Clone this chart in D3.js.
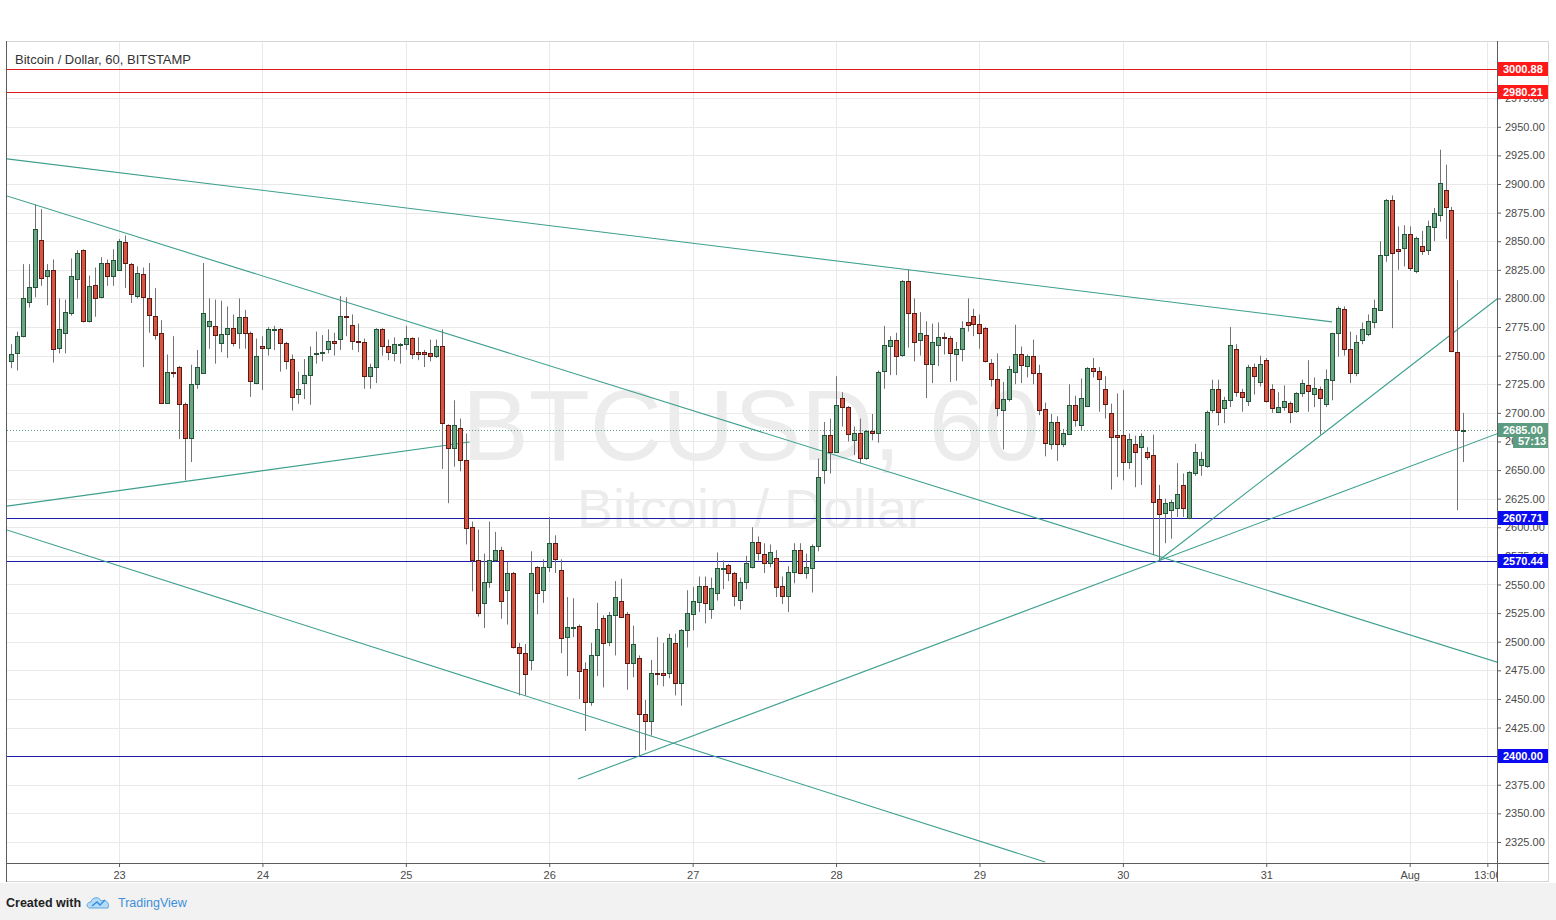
<!DOCTYPE html>
<html>
<head>
<meta charset="UTF-8">
<title>Bitcoin / Dollar, 60, BITSTAMP</title>
<style>
  body { margin: 0; background: #fff; font-family: "Liberation Sans", Arial, sans-serif; }
  svg { display: block; }
</style>
</head>
<body>
<div id="chart"></div>
<script src="https://d3js.org/d3.v7.min.js"></script>
<script>
const W = 1556, H = 920;

// hourly bars, first one Jul 22 2017 06:00
const firstBar = new Date(2017, 6, 22, 6);

const opens = [2745,2752,2767,2797,2810,2851,2820,2825,2756,2770,2788,2817,2842,2780,2812,2801,2831,2820,2825,2849,2830,2802,2821,
  2800,2785,2770,2709,2736,2740,2708,2678,2725,2735,2776,2776,2761,2769,2774,2770,2784,2770,2726,2758,2756,2773,2773,2761,
  2747,2717,2726,2733,2751,2752,2756,2763,2765,2785,2777,2763,2762,2732,2740,2773,2758,2752,2760,2760,2765,2753,2753,2752,2749,
  2758,2689,2669,2687,2659,2600,2571,2534,2552,2571,2580,2545,2560,2495,2490,2484,2565,2545,2565,2586,
  2563,2504,2512,2514,2476,2447,2488,2521,2499,2523,2536,2524,2481,2486,2437,2431,2473,2473,2472,2499,2464,2510,2525,
  2535,2549,2529,2542,2563,2567,2560,2536,2552,2565,2587,2577,2568,2573,2549,2540,2561,2580,2560,2565,2584,2650,
  2681,2666,2713,2705,2676,2682,2660,2684,2683,2736,2759,2764,2750,2815,2787,2764,2768,2743,2759,2766,2765,2752,2756,
  2779,2785,2778,2774,2744,2730,2702,2712,2735,2751,2741,2750,2735,2703,2673,2692,2672,2682,2707,2689,2706,2739,
  2737,2721,2700,2681,2681,2657,2673,2670,2666,2663,2625,2612,2615,2617,2637,2608,2648,2655,2654,2703,2721,2704,2711,
  2756,2718,2710,2740,2727,2746,2721,2701,2705,2709,2701,2717,2724,2717,2721,2708,2729,2770,2791,2756,2735,
  2763,2769,2780,2790,2838,2886,2843,2844,2856,2824,2846,2842,2863,2873,2895,2877,2753,2684];
const highs = [2760,2771,2830,2830,2882,2878,2830,2834,2800,2799,2835,2842,2843,2820,2827,2836,2834,2843,2852,2855,2831,2828,2827,
  2831,2809,2781,2751,2767,2741,2709,2742,2755,2831,2800,2799,2798,2793,2786,2800,2790,2771,2765,2767,2775,2776,2774,2762,
  2751,2736,2747,2758,2771,2768,2773,2770,2802,2801,2786,2778,2765,2743,2774,2774,2764,2766,2761,2776,2766,2766,2755,2764,2764,
  2773,2690,2711,2695,2682,2605,2598,2577,2605,2596,2583,2570,2561,2499,2498,2579,2566,2572,2609,2593,
  2572,2539,2538,2515,2482,2499,2534,2523,2526,2553,2555,2526,2514,2488,2449,2484,2504,2499,2507,2507,2511,2545,2548,
  2557,2557,2556,2578,2571,2568,2561,2556,2575,2600,2592,2586,2585,2580,2557,2566,2586,2586,2577,2585,2660,2692,
  2695,2732,2718,2706,2688,2695,2685,2699,2737,2776,2767,2770,2816,2825,2800,2788,2780,2778,2779,2770,2767,2762,2780,
  2800,2791,2786,2775,2747,2752,2727,2741,2777,2758,2751,2764,2742,2709,2699,2697,2686,2725,2715,2730,2740,2748,
  2740,2732,2708,2717,2720,2682,2680,2682,2670,2681,2637,2625,2624,2656,2647,2649,2673,2666,2702,2729,2729,2714,2775,
  2760,2721,2742,2743,2750,2748,2725,2718,2724,2710,2718,2729,2746,2731,2723,2738,2770,2793,2793,2771,2768,
  2779,2786,2799,2850,2887,2890,2863,2864,2863,2854,2859,2868,2879,2930,2917,2880,2816,2700];
const lows = [2739,2737,2766,2792,2801,2811,2794,2744,2752,2752,2785,2800,2779,2779,2784,2800,2811,2811,2824,2809,2796,2800,2740,
  2770,2764,2708,2708,2731,2677,2641,2657,2721,2735,2756,2743,2753,2748,2758,2756,2756,2714,2725,2720,2750,2755,2736,2738,
  2702,2708,2712,2707,2743,2745,2752,2750,2755,2767,2755,2753,2721,2721,2726,2750,2746,2745,2743,2755,2747,2746,2740,2745,2748,
  2651,2621,2653,2649,2585,2544,2522,2512,2547,2570,2520,2515,2494,2453,2453,2475,2524,2534,2561,2560,
  2490,2470,2504,2450,2422,2444,2470,2460,2496,2488,2521,2458,2469,2400,2405,2418,2462,2461,2468,2453,2444,2495,2510,
  2526,2516,2520,2536,2546,2553,2531,2528,2546,2564,2571,2560,2565,2539,2533,2526,2551,2559,2555,2543,2579,2638,
  2647,2665,2688,2675,2663,2656,2659,2676,2674,2721,2733,2733,2749,2757,2745,2750,2713,2726,2741,2751,2727,2728,2745,
  2771,2767,2756,2744,2723,2697,2668,2710,2725,2726,2731,2725,2698,2662,2668,2658,2670,2681,2688,2685,2705,2731,
  2701,2695,2633,2644,2641,2651,2635,2637,2659,2576,2571,2586,2590,2609,2609,2607,2645,2645,2652,2700,2689,2691,2705,
  2714,2701,2706,2716,2723,2709,2700,2700,2702,2691,2700,2714,2701,2705,2681,2705,2711,2749,2750,2726,2732,
  2760,2767,2774,2789,2832,2774,2825,2828,2824,2822,2838,2838,2850,2867,2852,2753,2615,2657];
const closes = [2751,2767,2800,2810,2861,2818,2825,2756,2773,2788,2820,2840,2780,2811,2801,2831,2820,2834,2850,2831,2804,2822,2801,
  2785,2768,2709,2736,2735,2708,2678,2725,2740,2787,2780,2768,2769,2774,2761,2784,2770,2728,2750,2756,2773,2773,2761,2745,
  2714,2721,2733,2750,2752,2753,2763,2761,2785,2784,2763,2762,2732,2740,2773,2758,2753,2760,2760,2765,2751,2751,2751,2749,2758,
  2691,2669,2689,2659,2600,2571,2525,2552,2571,2580,2535,2560,2495,2490,2472,2560,2542,2565,2586,2572,
  2504,2513,2513,2475,2447,2488,2511,2499,2523,2539,2522,2481,2498,2437,2431,2473,2472,2471,2503,2464,2510,2525,2536,
  2549,2534,2547,2564,2564,2560,2540,2552,2569,2587,2577,2569,2578,2548,2540,2561,2580,2560,2565,2584,2644,2681,
  2666,2707,2705,2681,2682,2660,2684,2682,2736,2759,2764,2750,2815,2787,2762,2770,2743,2762,2766,2765,2752,2756,2774,
  2776,2778,2770,2745,2730,2705,2712,2738,2751,2741,2750,2735,2703,2673,2692,2673,2682,2707,2694,2713,2739,2736,
  2730,2708,2679,2679,2657,2677,2666,2680,2662,2622,2612,2621,2622,2629,2617,2648,2666,2660,2701,2721,2701,2711,2759,
  2718,2714,2740,2732,2743,2710,2704,2705,2710,2701,2717,2726,2719,2722,2713,2730,2770,2792,2756,2735,2762,
  2773,2780,2792,2838,2886,2840,2841,2856,2826,2853,2842,2863,2875,2901,2880,2754,2685,2685];

// horizontal levels and drawn trend lines: [start hour from Jul 23 00:00, price, end hour, price]
const redLevels = [3000.88, 2980.21];
const blueLevels = [2607.71, 2570.44, 2400.00];
const lastPrice = 2685.00;
const countdown = "57:13";
const trendLines = [
  [-19, 2922.1, 203, 2779.5],
  [-19, 2889.9, 231, 2481.5],
  [-19, 2598.0, 155, 2307.4],
  [-19, 2618.3, 58.7, 2674.5],
  [76.8, 2380.0, 231, 2682.5],
  [174, 2571.0, 231, 2801.0]
];
const priceTicks = d3.range(2325, 3000, 25);
const timeTicks = [23, 24, 25, 26, 27, 28, 29, 30, 31].map(d => new Date(2017, 6, d))
  .concat([new Date(2017, 7, 1), new Date(2017, 7, 1, 13)]);

const base = new Date(2017, 6, 23);
const atHour = h => new Date(base.getTime() + h * 36e5);

const bars = opens.map((o, i) => ({
  t: d3.timeHour.offset(firstBar, i), o, h: highs[i], l: lows[i], c: closes[i]
}));

// layout
const plot = { left: 7, right: 1497, top: 42, bottom: 863 };
const x = d3.scaleTime()
  .domain([new Date(2017, 6, 22, 5, 15), new Date(2017, 7, 1, 14, 37)])
  .range([plot.left, plot.right]);
const y = d3.scaleLinear().domain([2306.6, 3024.1]).range([plot.bottom, plot.top]);

const upFill = "#6ba583", upLine = "#225437", dnFill = "#d75442", dnLine = "#5b1a13", wick = "#737375";
const trendColor = "#3c9f8d";

const svg = d3.select("#chart").append("svg").attr("width", W).attr("height", H);
svg.append("rect").attr("width", W).attr("height", H).attr("fill", "#fff");

svg.append("clipPath").attr("id", "plotclip").append("rect")
  .attr("x", plot.left).attr("y", plot.top)
  .attr("width", plot.right - plot.left).attr("height", plot.bottom - plot.top);

// grid
const grid = svg.append("g").attr("clip-path", "url(#plotclip)");
grid.selectAll(".hg").data(priceTicks).enter().append("line")
  .attr("x1", plot.left).attr("x2", plot.right)
  .attr("y1", d => Math.round(y(d)) + 0.5).attr("y2", d => Math.round(y(d)) + 0.5)
  .attr("stroke", "#e9e9ea");
grid.selectAll(".vg").data(timeTicks).enter().append("line")
  .attr("x1", d => Math.round(x(d)) + 0.5).attr("x2", d => Math.round(x(d)) + 0.5)
  .attr("y1", plot.top).attr("y2", plot.bottom)
  .attr("stroke", "#e9e9ea");

// watermark
svg.append("text").attr("x", 751).attr("y", 460).attr("text-anchor", "middle")
  .attr("font-size", 100).attr("fill", "#ececec").text("BTCUSD, 60");
svg.append("text").attr("x", 751).attr("y", 527).attr("text-anchor", "middle")
  .attr("font-size", 54).attr("fill", "#ececec").text("Bitcoin / Dollar");

const g = svg.append("g").attr("clip-path", "url(#plotclip)");

// levels
g.selectAll(".red").data(redLevels).enter().append("line")
  .attr("x1", plot.left).attr("x2", plot.right)
  .attr("y1", d => Math.round(y(d)) + 0.5).attr("y2", d => Math.round(y(d)) + 0.5)
  .attr("stroke", "#e31a1c");
g.selectAll(".blue").data(blueLevels).enter().append("line")
  .attr("x1", plot.left).attr("x2", plot.right)
  .attr("y1", d => Math.round(y(d)) + 0.5).attr("y2", d => Math.round(y(d)) + 0.5)
  .attr("stroke", "#1c1ca8");
g.append("line")
  .attr("x1", plot.left).attr("x2", plot.right)
  .attr("y1", Math.round(y(lastPrice)) + 0.5).attr("y2", Math.round(y(lastPrice)) + 0.5)
  .attr("stroke", "#5d9c80").attr("stroke-dasharray", "1,2");

// trend lines
g.selectAll(".trend").data(trendLines).enter().append("line")
  .attr("x1", d => x(atHour(d[0]))).attr("y1", d => y(d[1]))
  .attr("x2", d => x(atHour(d[2]))).attr("y2", d => y(d[3]))
  .attr("stroke", trendColor).attr("stroke-width", 1.1);

// candles
const cw = 4;
const candle = g.selectAll(".candle").data(bars).enter().append("g");
candle.append("line")
  .attr("x1", d => Math.round(x(d.t)) + 0.5).attr("x2", d => Math.round(x(d.t)) + 0.5)
  .attr("y1", d => y(d.h)).attr("y2", d => y(d.l))
  .attr("stroke", wick);
candle.append("rect")
  .attr("x", d => Math.round(x(d.t)) - cw / 2 + 0.5)
  .attr("y", d => Math.round(y(Math.max(d.o, d.c))) + 0.5)
  .attr("width", cw)
  .attr("height", d => Math.max(1, Math.round(y(Math.min(d.o, d.c)) - y(Math.max(d.o, d.c)))))
  .attr("fill", d => d.c >= d.o ? upFill : dnFill)
  .attr("stroke", d => d.c >= d.o ? upLine : dnLine);

// frame
svg.append("rect").attr("x", 6.5).attr("y", 41.5).attr("width", 1542).attr("height", 840)
  .attr("fill", "none").attr("stroke", "#d6d6d6");
svg.append("line").attr("x1", plot.right + 0.5).attr("x2", plot.right + 0.5)
  .attr("y1", 41).attr("y2", 882).attr("stroke", "#5c5c5c");
svg.append("line").attr("x1", 6).attr("x2", 1549)
  .attr("y1", plot.bottom + 0.5).attr("y2", plot.bottom + 0.5).attr("stroke", "#5c5c5c");
svg.append("line").attr("x1", 6.5).attr("x2", 6.5)
  .attr("y1", 41).attr("y2", 882).attr("stroke", "#5c5c5c");

// price axis
const yAxis = d3.axisRight(y).tickValues(priceTicks).tickFormat(d3.format(".2f"))
  .tickSize(4).tickPadding(4);
const ya = svg.append("g").attr("transform", `translate(${plot.right},0)`).call(yAxis);
ya.select(".domain").remove();
ya.selectAll("line").attr("stroke", "#5c5c5c");
ya.selectAll("text").attr("fill", "#4a4a4a").attr("font-size", 11)
  .attr("font-family", "Liberation Sans, Arial, sans-serif");

// time axis (last label is cut by the price scale, as in the original)
const xAxis = d3.axisBottom(x).tickValues(timeTicks).tickSize(4).tickPadding(4)
  .tickFormat(d => d.getHours() ? d3.timeFormat("%H:%M")(d) : d.getDate() === 1 ? "Aug" : d.getDate());
svg.append("clipPath").attr("id", "xclip").append("rect")
  .attr("x", plot.left).attr("y", 0).attr("width", plot.right - plot.left).attr("height", 20);
const xa = svg.append("g").attr("transform", `translate(0,${plot.bottom})`)
  .attr("clip-path", "url(#xclip)").call(xAxis);
xa.select(".domain").remove();
xa.selectAll("line").attr("stroke", "#5c5c5c");
xa.selectAll("text").attr("fill", "#4a4a4a").attr("font-size", 11)
  .attr("font-family", "Liberation Sans, Arial, sans-serif");

// price labels on the axis
const labels = redLevels.map(p => ({ p, fill: "#ff1a1a" }))
  .concat(blueLevels.map(p => ({ p, fill: "#0b0bf0" })))
  .concat([{ p: lastPrice, fill: "#5d9c80" }]);
const lab = svg.selectAll(".plabel").data(labels).enter().append("g")
  .attr("transform", d => `translate(${plot.right + 1},${Math.round(y(d.p))})`);
lab.append("rect").attr("x", 0).attr("y", -7).attr("width", 50).attr("height", 14).attr("fill", d => d.fill);
lab.append("text").attr("x", 5).attr("y", 4).attr("fill", "#fff").attr("font-size", 11)
  .attr("font-weight", "bold").text(d => d3.format(".2f")(d.p));
const cd = svg.append("g").attr("transform", `translate(${plot.right + 16},${Math.round(y(lastPrice)) + 11})`);
cd.append("rect").attr("x", 0).attr("y", -6).attr("width", 35).attr("height", 13).attr("fill", "#5d9c80");
cd.append("text").attr("x", 5).attr("y", 4).attr("fill", "#fff").attr("font-size", 11)
  .attr("font-weight", "bold").text(countdown);

// title
svg.append("text").attr("x", 15).attr("y", 64).attr("font-size", 13).attr("fill", "#333")
  .text("Bitcoin / Dollar, 60, BITSTAMP");

// footer
svg.append("rect").attr("x", 0).attr("y", 883).attr("width", W).attr("height", H - 883).attr("fill", "#f2f2f2");
svg.append("text").attr("x", 6).attr("y", 907).attr("font-size", 12.5).attr("font-weight", "bold")
  .attr("fill", "#222").text("Created with");
const logo = svg.append("g").attr("transform", "translate(88,896)");
logo.append("path").attr("d", "M2,12 C-2,12 -2,6 3,6 C4,1 11,0 13,5 C17,3 22,6 20,12 Z")
  .attr("fill", "#b7dbf5").attr("stroke", "#5aa6e0").attr("stroke-width", 1);
logo.append("path").attr("d", "M4,10 L9,6 L12,9 L17,4").attr("fill", "none")
  .attr("stroke", "#2f8de4").attr("stroke-width", 1.4);
svg.append("text").attr("x", 118).attr("y", 907).attr("font-size", 12.5)
  .attr("fill", "#3c8fd8").text("TradingView");
</script>
</body>
</html>
